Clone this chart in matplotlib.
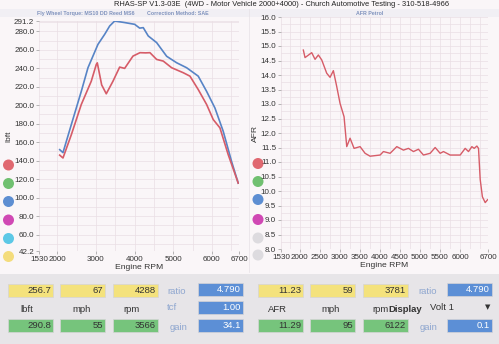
import matplotlib.pyplot as plt
from matplotlib.patches import Rectangle, Ellipse

plt.rcParams['font.family'] = ['Liberation Sans', 'DejaVu Sans']

# torque run (lbft vs rpm)
tq_blue_rpm = [2065, 2150, 2365, 2623, 2796, 3054, 3228, 3357, 3486, 3744, 4003, 4132,
               4225, 4354, 4571, 4830, 5088, 5346, 5646, 5863, 6078, 6292, 6509, 6680]
tq_blue = [151.9, 148.7, 179.0, 215.0, 240.6, 265.9, 276.8, 285.8, 291.2, 289.5, 287.6, 283.5,
           284.0, 275.0, 267.8, 253.0, 246.0, 240.6, 231.5, 215.0, 197.0, 171.8, 139.0, 115.7]
tq_red_rpm = [2065, 2150, 2365, 2623, 2881, 3011, 3037, 3150, 3269, 3442, 3615, 3744, 3959,
              4140, 4288, 4398, 4571, 4742, 4959, 5259, 5432, 5646, 5863, 6034, 6207, 6421, 6680]
tq_red = [146.0, 142.9, 168.0, 200.8, 226.0, 244.2, 245.9, 222.0, 212.4, 226.0, 241.3, 239.9, 253.2,
          256.9, 256.7, 256.9, 249.6, 247.8, 240.6, 235.2, 231.5, 217.0, 200.8, 184.5, 175.5, 146.5, 115.7]

# air/fuel ratio trace
afr_rpm = [2088, 2130, 2297, 2380, 2463, 2547, 2672, 2755, 2838, 2922, 3005, 3105, 3172, 3255,
           3355, 3505, 3630, 3755, 4005, 4088, 4255, 4422, 4588, 4713, 4838, 4963, 5088, 5255,
           5380, 5505, 5588, 5755, 6005, 6130, 6213, 6297, 6355, 6422, 6463, 6505, 6560, 6630, 6690]
afr = [14.86, 14.60, 14.77, 14.54, 14.69, 14.52, 14.06, 13.92, 14.15, 13.60, 13.02, 12.56, 11.53, 11.82,
       11.47, 11.53, 11.30, 11.20, 11.24, 11.36, 11.30, 11.53, 11.41, 11.47, 11.36, 11.44, 11.24, 11.30,
       11.50, 11.30, 11.36, 11.24, 11.24, 11.47, 11.36, 11.53, 11.47, 11.55, 11.47, 10.40, 9.80, 9.60, 9.70]

tq_xticks = [1530, 2000, 3000, 4000, 5000, 6000, 6700]
tq_yticks = [42.2, 60, 80, 100, 120, 140, 160, 180, 200, 220, 240, 260, 280, 291.2]
afr_xticks = [1530, 2000, 2500, 3000, 3500, 4000, 4500, 5000, 5500, 6000, 6700]
afr_yticks = [8.0, 8.5, 9.0, 9.5, 10.0, 10.5, 11.0, 11.5, 12.0, 12.5, 13.0, 13.5, 14.0, 14.5, 15.0, 15.5, 16.0]

left_top = ["256.7", "67", "4288"]
left_bot = ["290.8", "55", "3566"]
left_units = ["lbft", "mph", "rpm"]
right_top = ["11.23", "59", "3781"]
right_bot = ["11.29", "95", "6122"]
right_units = ["AFR", "mph", "rpm"]

W, H = 499, 344
PAPER = '#faf6f8'
GRID = '#eadfe4'
RED = '#d65c68'
BLUE = '#5784c6'

fig = plt.figure(figsize=(W / 100, H / 100), dpi=100, facecolor=PAPER)

# full-figure layer in pixel units for the sheet furniture
deco = fig.add_axes([0, 0, 1, 1], zorder=0)
deco.set_xlim(0, W)
deco.set_ylim(H, 0)
deco.axis('off')
deco.add_patch(Rectangle((0, 274), W, 70, color='#e7e5e8', lw=0))
deco.add_patch(Rectangle((0, 9), W, 8, color='#f1eff4', lw=0))
deco.plot([249.5, 249.5], [9, 272], color='#e6e1e6', lw=0.5)

deco.text(282, 5, "RHAS-SP V1.3-03E  (4WD - Motor Vehicle 2000+4000) - Church Automotive Testing - 310-518-4966",
          ha='center', va='center', fontsize=5.4, color='#222222')
deco.text(37, 13.5, "Fly Wheel Torque: MS10 DD Reed MS6", ha='left', va='center',
          fontsize=3.8, color='#7f92bd', fontweight='bold')
deco.text(147, 13.5, "Correction Method: SAE", ha='left', va='center',
          fontsize=3.8, color='#7f92bd', fontweight='bold')
deco.text(370, 13.5, "AFR Petrol", ha='center', va='center',
          fontsize=3.8, color='#7f92bd', fontweight='bold')

left_dots = ['#e06870', '#70c070', '#5d8ed2', '#d048b4', '#5cc8e6', '#f4dc7c']
left_dot_y = [165, 183.5, 201.5, 220, 238.5, 256.5]
right_dots = ['#e06870', '#70c070', '#5d8ed2', '#d048b4', '#dddbdf', '#dddbdf']
right_dot_y = [163.5, 181.5, 199.5, 219.5, 238, 255]
for c, y in zip(left_dots, left_dot_y):
    deco.add_patch(Ellipse((8.5, y), 11, 11, color=c, lw=0))
for c, y in zip(right_dots, right_dot_y):
    deco.add_patch(Ellipse((258, y), 11, 11, color=c, lw=0))


def box(x, y, text, face, tcolor):
    deco.add_patch(Rectangle((x, y), 45, 13, facecolor=face, edgecolor='#d6d4d6', lw=0.5))
    deco.text(x + 43, y + 6.8, text, ha='right', va='center', fontsize=6.8, color=tcolor)


YEL, GRN, BLU = '#f4e27c', '#76c47c', '#5c8fd6'
for i, x0 in enumerate([8, 60, 113]):
    box(x0, 284, left_top[i], YEL, '#333333')
    box(x0, 319, left_bot[i], GRN, '#333333')
    box(x0 + 250, 284, right_top[i], YEL, '#333333')
    box(x0 + 250, 319, right_bot[i], GRN, '#333333')
for x0, u in zip([20, 72, 123], left_units):
    deco.text(x0, 310, u, ha='left', va='center', fontsize=6.8, color='#333333')
for x0, u in zip([268, 321, 372], right_units):
    deco.text(x0, 310, u, ha='left', va='center', fontsize=6.8, color='#333333')
deco.text(388, 309, "Display", ha='left', va='center', fontsize=6.8, color='#333333', fontweight='bold')
deco.text(430, 308, "Volt 1", ha='left', va='center', fontsize=6.8, color='#333333')
deco.text(488, 307, "\u25bc", ha='center', va='center', fontsize=5, color='#333333', family=['DejaVu Sans'])

box(198, 283, "4.790", BLU, 'white')
box(198, 301, "1.00", BLU, 'white')
box(198, 319, "34.1", BLU, 'white')
box(447, 283, "4.790", BLU, 'white')
box(447, 319, "0.1", BLU, 'white')
LBL = '#8ea6cf'
deco.text(167, 291, "ratio", ha='left', va='center', fontsize=6.8, color=LBL)
deco.text(167, 308, "tcf", ha='left', va='center', fontsize=6.8, color=LBL)
deco.text(170, 327, "gain", ha='left', va='center', fontsize=6.8, color=LBL)
deco.text(418, 291, "ratio", ha='left', va='center', fontsize=6.8, color=LBL)
deco.text(420, 327, "gain", ha='left', va='center', fontsize=6.8, color=LBL)


def style(ax, xticks, yticks, xlim, ylim, ylabel, xmin_step):
    ax.set_facecolor('none')
    ax.set_xlim(*xlim)
    ax.set_ylim(*ylim)
    ax.set_xticks(xticks)
    ax.set_xticklabels([str(t) for t in xticks])
    ax.set_yticks(yticks)
    ax.set_yticklabels(['%.1f' % t for t in yticks])
    minor_x = [v for v in range(1500, 6800, xmin_step) if xlim[0] < v < xlim[1]]
    ax.set_xticks(minor_x, minor=True)
    ax.tick_params(which='minor', length=0)
    ax.tick_params(which='major', labelsize=5.8, colors='#9a9a9a', labelcolor='#333333',
                   length=2.5, width=0.5, pad=1)
    ax.grid(True, which='both', color=GRID, lw=0.5)
    for s in ax.spines.values():
        s.set_visible(False)
    ax.set_xlabel("Engine RPM", fontsize=6.1, color='#333333', labelpad=1)
    ax.set_ylabel(ylabel, fontsize=6.1, color='#333333', labelpad=1)


ax1 = fig.add_axes([39 / W, 1 - 251 / H, 200 / W, 230 / H], zorder=1)
style(ax1, tq_xticks, tq_yticks, (1530, 6700), (42.2, 291.2), "lbft", 500)
ax1.set_yticks([v for v in range(50, 291, 10)], minor=True)
ax1.plot(tq_blue_rpm, tq_blue, color=BLUE, lw=1.2)
ax1.plot(tq_red_rpm, tq_red, color=RED, lw=1.2)

ax2 = fig.add_axes([281 / W, 1 - 249 / H, 207 / W, 232 / H], zorder=1)
style(ax2, afr_xticks, afr_yticks, (1530, 6700), (8.0, 16.0), "AFR", 250)
ax2.set_yticks([8.25 + 0.5 * i for i in range(16)], minor=True)
ax2.plot(afr_rpm, afr, color=RED, lw=1.0)

fig.savefig('out.png', dpi=100, facecolor=PAPER)
